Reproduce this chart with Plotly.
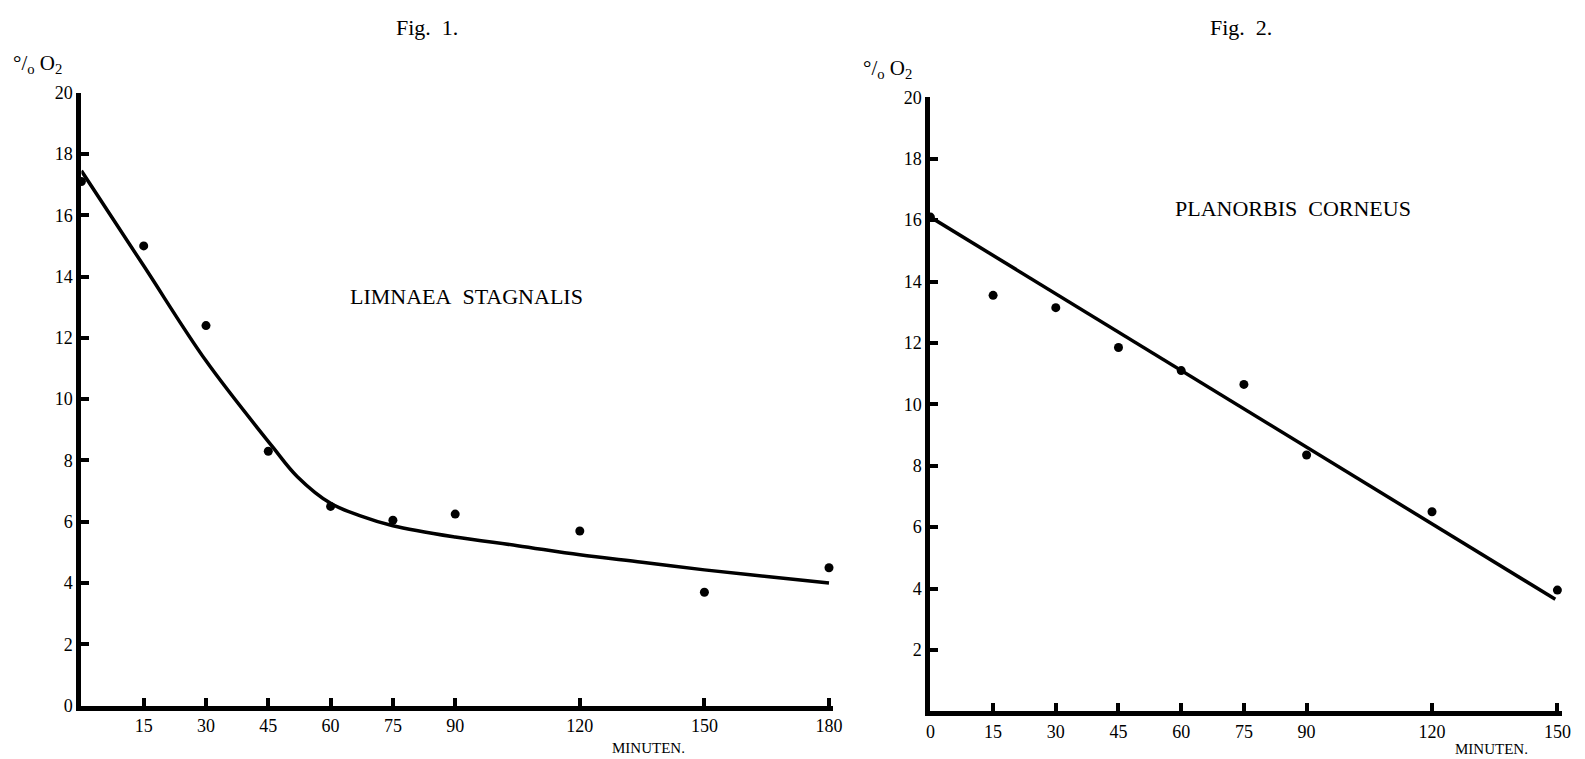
import plotly.graph_objects as go

# ---- data: Fig. 1 (Limnaea stagnalis)
left_t = [0, 15, 30, 45, 60, 75, 90, 120, 150, 180]
left_o2 = [17.1, 15.0, 12.4, 8.3, 6.5, 6.05, 6.25, 5.7, 3.7, 4.5]
left_curve_t = [0, 15, 30, 46, 52, 60, 67, 75, 90, 105, 120, 135, 150, 165, 180]
left_curve_o2 = [17.45, 14.35, 11.25, 8.45, 7.47, 6.6, 6.2, 5.87, 5.5, 5.22, 4.92, 4.68, 4.43, 4.21, 4.0]
left_xticks = [15, 30, 45, 60, 75, 90, 120, 150, 180]
left_yticks = [0, 2, 4, 6, 8, 10, 12, 14, 16, 18, 20]

# ---- data: Fig. 2 (Planorbis corneus)
right_t = [0, 15, 30, 45, 60, 75, 90, 120, 150]
right_o2 = [16.1, 13.55, 13.15, 11.85, 11.1, 10.65, 8.35, 6.5, 3.95]
right_line_t = [0, 149.5]
right_line_o2 = [16.1, 3.65]
right_xticks = [0, 15, 30, 45, 60, 75, 90, 120, 150]
right_yticks = [2, 4, 6, 8, 10, 12, 14, 16, 18, 20]

W, H = 1585, 759
FONT = "Liberation Serif"

# empirical compensation of the rendered page placement
OX, SX = 10.6, 0.9918
OY, SY = 17.2, 0.9753

def px(x):
    return (x - OX) / SX / W

def py(y):
    return 1 - (y - OY) / SY / H

fig = go.Figure()

fig.add_trace(go.Scatter(x=left_curve_t, y=left_curve_o2, mode="lines",
                         line=dict(color="black", width=3.5, shape="spline", smoothing=1.0),
                         xaxis="x", yaxis="y", hoverinfo="skip", cliponaxis=False))
fig.add_trace(go.Scatter(x=left_t, y=left_o2, mode="markers",
                         marker=dict(color="black", size=9),
                         xaxis="x", yaxis="y", cliponaxis=False))
fig.add_trace(go.Scatter(x=right_line_t, y=right_line_o2, mode="lines",
                         line=dict(color="black", width=3.5),
                         xaxis="x2", yaxis="y2", hoverinfo="skip", cliponaxis=False))
fig.add_trace(go.Scatter(x=right_t, y=right_o2, mode="markers",
                         marker=dict(color="black", size=9),
                         xaxis="x2", yaxis="y2", cliponaxis=False))

axis_common = dict(showgrid=False, zeroline=False, showline=True, linecolor="black",
                   linewidth=5, ticks="inside", tickcolor="black", tickwidth=4,
                   ticklen=8, tickfont=dict(family=FONT, size=18, color="black"))

lx0, lscale = 80, 62.3 / 15
fig.update_layout(
    xaxis=dict(domain=[px(lx0), px(lx0 + 181 * lscale)], range=[0, 181],
               tickvals=left_xticks, ticktext=[str(v) for v in left_xticks],
               anchor="y", **axis_common),
    yaxis=dict(domain=[py(706), py(92)], range=[0, 20],
               tickvals=left_yticks, ticktext=[str(v) for v in left_yticks],
               anchor="x", **axis_common),
)

rx0, rscale = 929, 62.7 / 15
fig.update_layout(
    xaxis2=dict(domain=[px(rx0), px(rx0 + 151 * rscale)], range=[0, 151],
                tickvals=right_xticks, ticktext=[str(v) for v in right_xticks],
                anchor="y2", **axis_common),
    yaxis2=dict(domain=[py(711.7), py(96.7)], range=[0, 20],
                tickvals=right_yticks, ticktext=[str(v) for v in right_yticks],
                anchor="x2", **axis_common),
)

def txt(x, y, s, size, xanchor="center"):
    fig.add_annotation(x=px(x), y=py(y), xref="paper", yref="paper", text=s,
                       showarrow=False, xanchor=xanchor, yanchor="middle",
                       font=dict(family=FONT, size=size, color="black"))

txt(426, 27, "Fig.&nbsp; 1.", 22)
txt(1240, 27, "Fig.&nbsp; 2.", 22)
txt(10, 63, "°/<sub>o</sub> O<sub>2</sub>", 21, "left")
txt(860, 68, "°/<sub>o</sub> O<sub>2</sub>", 21, "left")
txt(465, 296, "LIMNAEA&nbsp; STAGNALIS", 22)
txt(1292, 208, "PLANORBIS&nbsp; CORNEUS", 22)
txt(647, 748, "MINUTEN.", 15)
txt(1490, 749, "MINUTEN.", 15)

fig.update_layout(width=W, height=H, margin=dict(l=0, r=0, t=0, b=0),
                  paper_bgcolor="white", plot_bgcolor="white", showlegend=False)

fig.write_html("out.html")
